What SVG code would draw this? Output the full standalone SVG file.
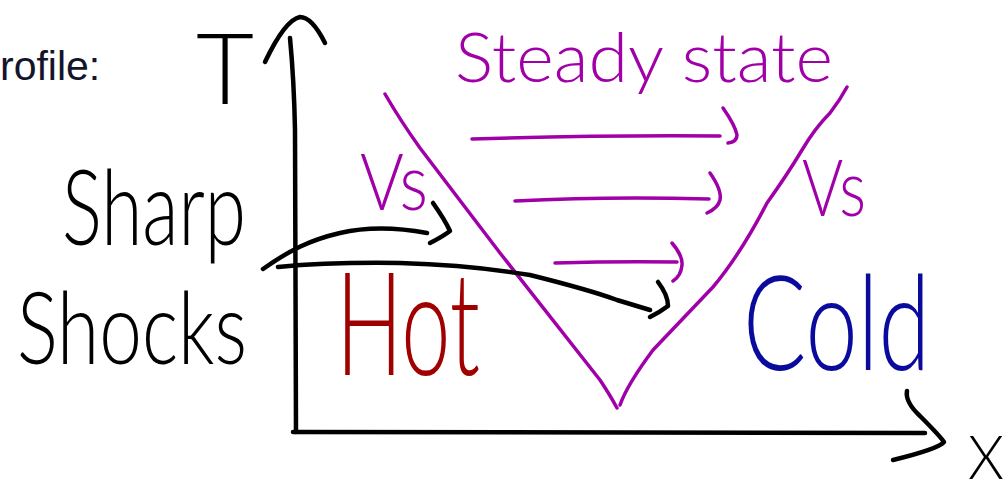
<svg xmlns="http://www.w3.org/2000/svg" width="1008" height="495" viewBox="0 0 1008 495">
<style>
.ink{fill:none;stroke-linecap:round;stroke-linejoin:round}
.blk{stroke:#000;stroke-width:4.5}
.pur{stroke:#a000a8;stroke-width:3.5}
.hw{font-family:"Lato","Liberation Sans","DejaVu Sans",sans-serif;font-weight:300}
.tb{fill:#000}
.tp{fill:#a000a8}
.tr{fill:#a00000}
.tc{fill:#0a0a9c}
</style>
<rect width="1008" height="495" fill="#fff"/>
<g id="title">
<text x="0" y="80" font-family="Liberation Sans, Arial, sans-serif" font-size="41" fill="#14142b">rofile:</text>
</g>
<g id="axes">
<path class="ink blk" d="M290,38 Q294,80 295,130 L296,432"/>
<path class="ink blk" d="M265,62 Q285,20 300,17 Q312,17 325,43"/>
<path class="ink blk" stroke-width="5" d="M293,432 L925,433"/>
<path class="ink blk" d="M907,391 Q905,402 920,416 Q940,436 944,442 Q938,449 893,460"/>
<text class="hw tb" x="196" y="104" font-size="98" textLength="58" lengthAdjust="spacingAndGlyphs">T</text>
<text class="hw tb" x="968" y="479" font-size="62" textLength="36" lengthAdjust="spacingAndGlyphs">X</text>
</g>
<g id="profile">
<path class="ink pur" d="M385,94 Q400,120 420,148 L500,253 L600,380 Q610,395 617,408"/>
<path class="ink pur" d="M620,405 Q627,385 653,350 L713,287 Q740,255 767,203 Q787,175 802,150 Q815,128 830,113 Q840,100 847,87"/>
</g>
<g id="labels">
<text class="hw tp" x="455" y="82" font-size="68" textLength="378" lengthAdjust="spacingAndGlyphs">Steady state</text>
<text class="hw tp" x="360" y="210" font-size="78" textLength="68" lengthAdjust="spacingAndGlyphs">Vs</text>
<text class="hw tp" x="802" y="216" font-size="78" textLength="64" lengthAdjust="spacingAndGlyphs">Vs</text>
<text class="hw tb" x="62" y="245" font-size="105" textLength="184" lengthAdjust="spacingAndGlyphs">Sharp</text>
<text class="hw tb" x="17" y="364" font-size="100" textLength="230" lengthAdjust="spacingAndGlyphs">Shocks</text>
<text class="hw tr" x="336" y="375" font-size="145" textLength="144" lengthAdjust="spacingAndGlyphs">Hot</text>
<text class="hw tc" x="743" y="370" font-size="132" textLength="187" lengthAdjust="spacingAndGlyphs">Cold</text>
</g>
<g id="connectors">
<path class="ink pur" d="M472,139 Q600,135 720,136"/>
<path class="ink pur" d="M723,108 Q735,125 737,135 Q737,142 728,143"/>
<path class="ink pur" d="M515,201 Q610,196 709,199"/>
<path class="ink pur" d="M710,173 Q722,190 720,200 Q718,208 707,213"/>
<path class="ink pur" d="M555,263 Q620,261 677,262"/>
<path class="ink pur" d="M672,243 Q683,256 682,265 Q681,276 673,281"/>
<path class="ink blk" d="M263,269 C290,250 310,240 340,233 S400,228 427,233"/>
<path class="ink blk" d="M433,203 Q445,220 450,231 Q442,237 430,243"/>
<path class="ink blk" stroke-width="5" d="M278,267 Q330,262 400,263 Q470,265 530,275 Q590,290 617,300 Q640,307 650,310"/>
<path class="ink blk" d="M658,282 Q668,295 668,306 Q660,312 650,317"/>
</g>
</svg>
